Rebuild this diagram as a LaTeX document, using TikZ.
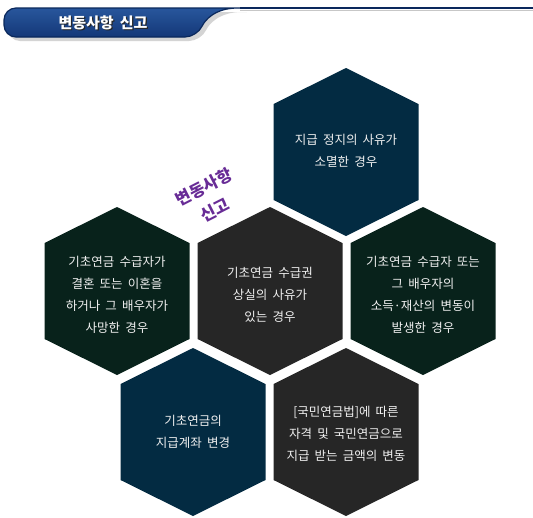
\documentclass[tikz,border=0pt]{standalone}
\usepackage{fontspec}
\newfontfamily\kr{Noto Sans CJK KR}
\newfontfamily\krw{Noto Sans CJK KR}[WordSpace=1.8]
\usetikzlibrary{calc}
\definecolor{hexnavy}{RGB}{3,43,66}
\definecolor{hexgreen}{RGB}{8,34,27}
\definecolor{hexgray}{RGB}{38,38,38}
\definecolor{hextext}{RGB}{240,240,240}
\definecolor{purp}{RGB}{104,44,150}
\definecolor{bartop}{RGB}{40,86,156}
\definecolor{barmid}{RGB}{64,114,184}
\definecolor{barbot}{RGB}{20,56,120}
\definecolor{barline}{RGB}{10,40,92}
\tikzset{
  hextxt/.style={text=hextext, align=center, font=\krw\fontsize{12.5}{22}\selectfont, inner sep=0pt},
  hexfill/.style={fill=#1, draw=none},
  titlefont/.style={font=\kr\bfseries\fontsize{15}{16}\selectfont},
  purpfont/.style={text=purp, font=\kr\bfseries\fontsize{16.5}{24}\selectfont, rotate=27, inner sep=0pt},
}
\newcommand{\hexat}[2]{\fill[hexfill=#2] (#1) ++(0,-84) -- ++(72.5,36) -- ++(0,96) -- ++(-72.5,36) -- ++(-72.5,-36) -- ++(0,-96) -- cycle;}
\begin{document}
\begin{tikzpicture}[x=1pt,y=-1pt]
\useasboundingbox (0,0) rectangle (533,517);
\fill[white] (0,0) rectangle (533,517);
% header
\fill[black!30, opacity=0.55, rounded corners=12] (8,12) -- (254,12) .. controls (219,12) and (209,24) .. (201,41) -- (8,41) -- cycle;
\shade[top color=bartop, middle color=barmid, bottom color=barbot, draw=barline, line width=1.2pt, rounded corners=12]
  (4,8) -- (250,8) .. controls (215,8) and (205,20) .. (197,37) -- (4,37) -- cycle;
\draw[barline, line width=1.4pt] (240,8) -- (533,8);
\draw[black!22, line width=1.2pt] (240,10.5) -- (533,10.5);
\node[text=black!85, titlefont] (titleshadow) at (104.2,24.2) {변동사항 신고};
\node[text=white, titlefont] (title) at (103,23) {변동사항 신고};
% hex centres
\coordinate (ctop) at (346,152);
\coordinate (cleft) at (117,291);
\coordinate (cmid) at (270,291);
\coordinate (cright) at (423,291);
\coordinate (cbl) at (193,432);
\coordinate (cbr) at (346,432);
\hexat{ctop}{hexnavy}
\hexat{cleft}{hexgreen}
\hexat{cmid}{hexgray}
\hexat{cright}{hexgreen}
\hexat{cbl}{hexnavy}
\hexat{cbr}{hexgray}
\node[hextxt] (ttop) at ($(ctop)+(0,-1)$) {지급 정지의 사유가\\소멸한 경우};
\node[hextxt] (tleft) at ($(cleft)+(0,4)$) {기초연금 수급자가\\결혼 또는 이혼을\\하거나 그 배우자가\\사망한 경우};
\node[hextxt] (tmid) at ($(cmid)+(0,4)$) {기초연금 수급권\\상실의 사유가\\있는 경우};
\node[hextxt] (tright) at ($(cright)+(0,4)$) {기초연금 수급자 또는\\그 배우자의\\소득·재산의 변동이\\발생한 경우};
\node[hextxt] (tbl) at (cbl) {기초연금의\\지급계좌 변경};
\node[hextxt] (tbr) at ($(cbr)+(0,2)$) {[국민연금법]에 따른\\자격 및 국민연금으로\\지급 받는 금액의 변동};
% purple label
\node[purpfont] (lbl1) at (204,187) {변동사항};
\node[purpfont] (lbl2) at (215,210) {신고};
\end{tikzpicture}
\end{document}
